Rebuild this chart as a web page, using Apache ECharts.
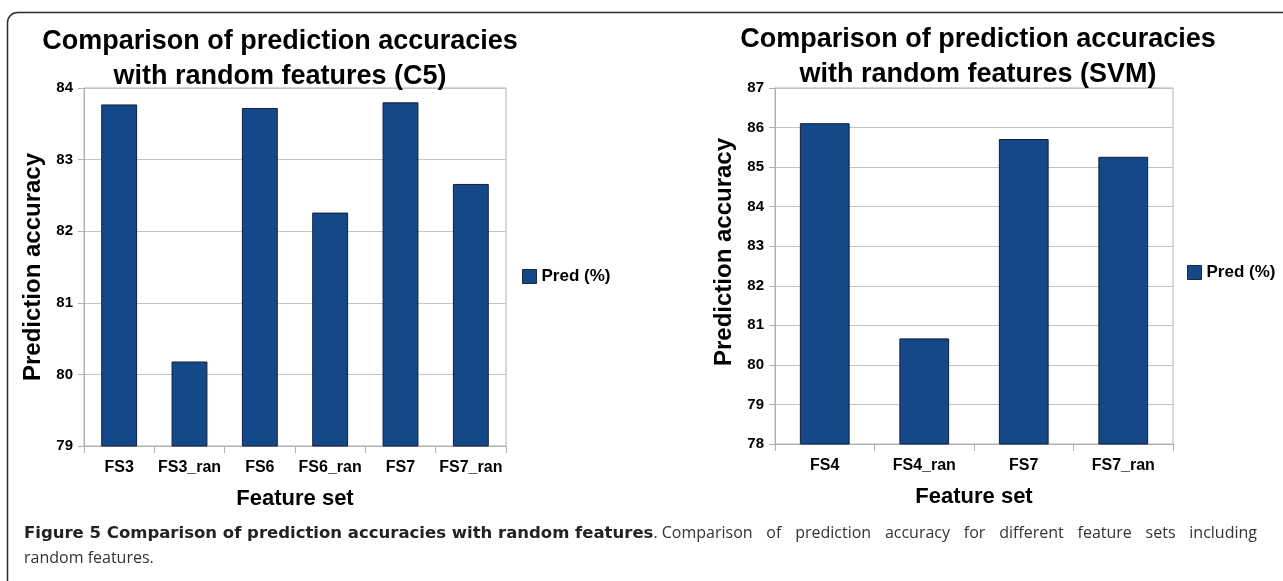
<!DOCTYPE html>
<html>
<head>
<meta charset="utf-8">
<script src="https://cdn.jsdelivr.net/npm/echarts@6/dist/echarts.min.js"></script>
<style>
  html, body { margin: 0; padding: 0; background: #fff; }
  #main { width: 1283px; height: 581px; }
</style>
</head>
<body>
<div id="main"></div>
<script>
  // values
  const c5Sets = ['FS3', 'FS3_ran', 'FS6', 'FS6_ran', 'FS7', 'FS7_ran']
  const c5Pred = [83.77, 80.18, 83.72, 82.26, 83.80, 82.66]
  const svmSets = ['FS4', 'FS4_ran', 'FS7', 'FS7_ran']
  const svmPred = [86.11, 80.67, 85.71, 85.26]

  const captionBold = 'Figure 5 Comparison of prediction accuracies with random features'
  const captionRest = 'Comparison of prediction accuracy for different feature sets including'
  const captionLine2 = 'random features.'

  const FONT = 'Liberation Sans, Arial, sans-serif'
  const CAP_FONT = 'Open Sans, sans-serif'
  const CAP_BOLD_FONT = 'DejaVu Sans, sans-serif'
  const BAR = '#154889'
  const GRID_LINE = '#c4c4c4'
  const AXIS_LINE = '#b0b0b0'

  const chart = echarts.init(document.getElementById('main'))

  function yAxisOf(gridIndex, min, max, namePad) {
    return {
      type: 'value',
      gridIndex: gridIndex,
      min: min,
      max: max,
      interval: 1,
      name: 'Prediction accuracy',
      nameLocation: 'middle',
      nameRotate: 90,
      nameGap: 39,
      nameTextStyle: { fontFamily: FONT, fontWeight: 'bold', fontSize: 24, color: '#000', padding: namePad },
      axisLine: { show: true, lineStyle: { color: AXIS_LINE } },
      axisTick: { show: true, length: 6, lineStyle: { color: AXIS_LINE } },
      axisLabel: { fontFamily: FONT, fontWeight: 'bold', fontSize: 15, color: '#000', margin: 11 },
      splitLine: { show: true, lineStyle: { color: GRID_LINE } }
    }
  }

  function xAxisOf(gridIndex, cats) {
    return {
      type: 'category',
      gridIndex: gridIndex,
      data: cats,
      name: 'Feature set',
      nameLocation: 'middle',
      nameGap: 42,
      nameTextStyle: { fontFamily: FONT, fontWeight: 'bold', fontSize: 22, color: '#000' },
      axisLine: { show: true, lineStyle: { color: AXIS_LINE } },
      axisTick: { show: true, length: 7, lineStyle: { color: AXIS_LINE } },
      axisLabel: { fontFamily: FONT, fontWeight: 'bold', fontSize: 16, color: '#000', margin: 14, interval: 0 }
    }
  }

  const measureCtx = document.createElement('canvas').getContext('2d')
  function textWidth(text, font) {
    measureCtx.font = font
    return measureCtx.measureText(text).width
  }

  // caption first line: bold lead-in, then the rest justified up to the right margin
  function captionLine1(y) {
    const boldSize = 16.5
    const size = 16
    const boldW = textWidth(captionBold, 'bold ' + boldSize + 'px ' + CAP_BOLD_FONT)
    const els = [
      { type: 'text', left: 24, top: y, silent: true,
        style: { text: captionBold, fontFamily: CAP_BOLD_FONT, fontWeight: 'bold', fontSize: boldSize, fill: '#222' } },
      { type: 'text', left: 24 + boldW, top: y, silent: true,
        style: { text: '.', fontFamily: CAP_FONT, fontSize: size, fill: '#333' } }
    ]
    const words = captionRest.split(' ')
    const widths = words.map(w => textWidth(w, size + 'px ' + CAP_FONT))
    const x0 = 24 + boldW + textWidth('. ', size + 'px ' + CAP_FONT)
    const total = widths.reduce((a, b) => a + b, 0)
    const gap = (1257 - x0 - total) / (words.length - 1)
    let x = x0
    words.forEach((w, i) => {
      els.push({ type: 'text', left: x, top: y, silent: true,
        style: { text: w, fontFamily: CAP_FONT, fontSize: size, fill: '#333' } })
      x += widths[i] + gap
    })
    return els
  }

  const titleStyle = { fontFamily: FONT, fontWeight: 'bold', fontSize: 27, lineHeight: 35, color: '#000' }
  const legendStyle = { fontFamily: FONT, fontWeight: 'bold', fontSize: 17, color: '#000' }

  chart.setOption({
    animation: false,
    backgroundColor: '#fff',
    title: [
      { text: 'Comparison of prediction accuracies\nwith random features (C5)', left: 280, top: 24, padding: 0, textAlign: 'center', textStyle: titleStyle },
      { text: 'Comparison of prediction accuracies\nwith random features (SVM)', left: 978, top: 22, padding: 0, textAlign: 'center', textStyle: titleStyle }
    ],
    legend: [
      { data: ['Pred (%)'], left: 517, top: 263, icon: 'rect', itemWidth: 14, itemHeight: 14, itemGap: 6,
        itemStyle: { borderColor: '#1b2a44', borderWidth: 1 }, textStyle: legendStyle },
      { data: ['Pred (%)'], left: 1182, top: 259, icon: 'rect', itemWidth: 14, itemHeight: 14, itemGap: 6,
        itemStyle: { borderColor: '#1b2a44', borderWidth: 1 }, textStyle: legendStyle }
    ],
    grid: [
      { left: 84, top: 88, width: 422, height: 358, show: true, borderColor: AXIS_LINE, borderWidth: 1 },
      { left: 775, top: 88, width: 398, height: 356, show: true, borderColor: AXIS_LINE, borderWidth: 1 }
    ],
    xAxis: [xAxisOf(0, c5Sets), xAxisOf(1, svmSets)],
    yAxis: [yAxisOf(0, 79, 84, 0), yAxisOf(1, 78, 87, [0, 0, 0, 28])],
    series: [
      { name: 'Pred (%)', type: 'bar', xAxisIndex: 0, yAxisIndex: 0, data: c5Pred, barWidth: '51%',
        itemStyle: { color: BAR, borderColor: '#0e1f3a', borderWidth: 1 } },
      { name: 'Pred (%)', type: 'bar', xAxisIndex: 1, yAxisIndex: 1, data: svmPred, barWidth: '50%',
        itemStyle: { color: BAR, borderColor: '#0e1f3a', borderWidth: 1 } }
    ],
    graphic: [
      // figure frame
      { type: 'rect', silent: true, shape: { x: 7.5, y: 12.5, width: 1290, height: 590, r: 10 },
        style: { fill: 'none', stroke: '#2b2b2b', lineWidth: 1.5 } }
    ].concat(captionLine1(525)).concat([
      { type: 'text', left: 24, top: 550, silent: true,
        style: { text: captionLine2, fontFamily: CAP_FONT, fontSize: 16, fill: '#333' } }
    ])
  })
</script>
</body>
</html>
